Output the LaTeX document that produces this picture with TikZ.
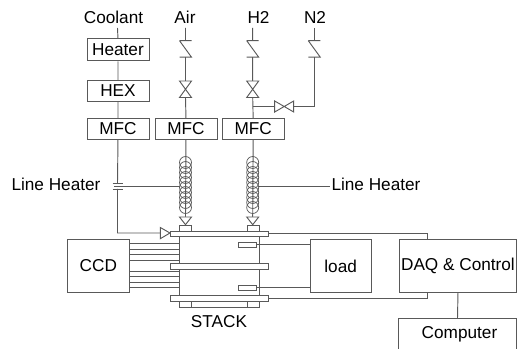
\documentclass[tikz,border=0pt]{standalone}
\usepackage{fontspec}
\setmainfont{Liberation Sans}
\tikzset{
  x=0.75pt,y=-0.75pt,
  ln/.style={draw=black!65,line width=0.7pt},
  boxn/.style={ln,fill=white,rectangle,inner sep=0pt,anchor=north west,text=black,font=\fontsize{12.9}{15}\selectfont},
  lab/.style={inner sep=0pt,text=black,font=\fontsize{12.9}{15}\selectfont},
  part/.style={ln,fill=white},
}
\newcommand{\boxat}[6]{\node[boxn,minimum width=#4*0.75pt,minimum height=#5*0.75pt] (#1) at (#2,#3) {#6};}
\newcommand{\checkv}[3]{%
  \coordinate (#1t) at (#2,#3);
  \coordinate (#1b) at (#2,#3+16.5);
  \draw[ln] (#2-6,#3) -- (#2+6,#3) (#2-6,#3) -- (#2+6,#3+16.5) -- (#2-6,#3+16.5);}
\newcommand{\bowv}[3]{%
  \coordinate (#1t) at (#2,#3);
  \coordinate (#1b) at (#2,#3+16.5);
  \draw[part] (#2-6,#3) -- (#2+6,#3) -- (#2-6,#3+16.5) -- (#2+6,#3+16.5) -- cycle;}
\newcommand{\coil}[1]{%
  \foreach \k in {0,...,9} {\draw[ln,line width=0.55pt] (#1,{162.5+\k*5}) circle[radius=6];}}
\begin{document}
\begin{tikzpicture}
\useasboundingbox (0,0) rectangle (519,349);
% labels
\node[lab] (coolant) at (113.5,17) {Coolant};
\node[lab] (air) at (185,17) {Air};
\node[lab] (h2) at (258.5,17) {H2};
\node[lab] (n2) at (315,17) {N2};
\coordinate (cfree) at (117.5,28);
\coordinate (afree) at (185.5,28);
\coordinate (hfree) at (252.7,28);
\coordinate (nfree) at (314.3,28);
% boxes
\boxat{heater}{86.5}{38.5}{62}{22}{Heater}
\boxat{hex}{86.5}{80}{62}{21}{HEX}
\boxat{mfca}{86.5}{118}{62}{21}{MFC}
\boxat{mfcb}{154.5}{118}{62}{21}{MFC}
\boxat{mfcc}{221.7}{118}{62}{21}{MFC}
\boxat{ccd}{67}{238.7}{61.7}{53.6}{CCD}
\boxat{load}{309.7}{238.7}{61}{53.6}{load}
\boxat{daq}{398.7}{238.7}{117.6}{53.6}{DAQ \& Control}
\draw[ln] (398.7,349.5) -- (398.7,318.7) -- (516.3,318.7) -- (516.3,349.5);
\node[lab] (comp) at (459.5,334) {Computer};
\coordinate (compT) at (457.5,318.7);
% coolant
\coordinate (cvalve) at (160.3,233);
\coordinate (capa) at (117.5,183.3);
\coordinate (capb) at (117.5,189);
\draw[ln] (cfree) -- (heater.north) (heater.south) -- (hex.north) (hex.south) -- (mfca.north);
\draw[ln] (mfca.south) -- (capa) (capb) -- (capb |- cvalve) -- (cvalve);
\draw[ln] (112.5,183.3) -- (122.5,183.3) (112.5,189) -- (122.5,189);
% gas lines
\checkv{a}{185.5}{40.7}
\checkv{h}{252.7}{40.7}
\checkv{n}{314.3}{40.7}
\bowv{av}{185.5}{81}
\bowv{hv}{252.7}{81}
\coordinate (hj) at (252.7,106.7);
\coordinate (nj) at (314.3,106.7);
\coordinate (xl) at (274.7,106.7);
\coordinate (xr) at (293.7,106.7);
\draw[ln] (afree) -- (at) (ab) -- (avt) (avb) -- (mfcb.north);
\draw[ln] (hfree) -- (ht) (hb) -- (hvt) (hvb) -- (mfcc.north);
\draw[ln] (nfree) -- (nt) (nb) -- (nj) -- (xr) (hj) -- (xl);
\draw[part] (274.7,101) -- (274.7,112) -- (293.7,101) -- (293.7,112) -- cycle;
% heated lines
\coordinate (atri) at (185.5,217);
\coordinate (htri) at (252.7,217);
\draw[ln] (mfcb.south) -- (atri) (mfcc.south) -- (htri);
\coil{185.5}
\coil{252.7}
\node[lab] (lhl) at (56,184) {Line Heater};
\node[lab] (lhr) at (376,184) {Line Heater};
\coordinate (lla) at (114,186);
\coordinate (llb) at (179.5,186);
\coordinate (lra) at (258.7,186);
\coordinate (lrb) at (330,186);
\draw[ln] (lla) -- (llb) (lra) -- (lrb);
% ccd leads
\boxat{body}{179.3}{236}{80}{71}{}
\foreach \y in {243.7,249.3,254.7,260.3,271,276.3,282,287.3} {\draw[ln] (ccd.east |- 0,\y) -- (body.west |- 0,\y);}
% stack
\boxat{ta}{179.3}{224.7}{12}{6}{}
\boxat{tb}{247}{224.7}{12.3}{6}{}
\boxat{ba}{179.3}{301}{12}{6}{}
\boxat{bb}{247}{301}{12.3}{6}{}
\boxat{plateA}{170}{230.7}{98}{5.3}{}
\boxat{plateB}{170}{262.7}{98}{6}{}
\boxat{plateC}{170}{295.3}{98}{5.7}{}
\draw[part] (179.5,217) -- (191.5,217) -- (185.5,224.7) -- cycle;
\draw[part] (246.7,217) -- (258.7,217) -- (252.7,224.7) -- cycle;
\draw[part] (160.3,227.5) -- (170,233) -- (160.3,238.7) -- cycle;
\node[lab] (stack) at (219,322) {STACK};
% sensors
\boxat{sa}{237.7}{241.7}{18}{5.3}{}
\boxat{sb}{237.7}{284.7}{18}{5.3}{}
\draw[ln] (sa.east) -- (sa.east -| load.west) (sb.east) -- (sb.east -| load.west);
% daq
\coordinate (dt) at (427,238.7);
\coordinate (db) at (427,292.3);
\draw[ln] (plateA.east) -- (plateA.east -| dt) -- (dt);
\draw[ln] (plateC.east) -- (plateC.east -| db) -- (db);
\draw[ln] (daq.south) -- (compT);
\end{tikzpicture}
\end{document}
